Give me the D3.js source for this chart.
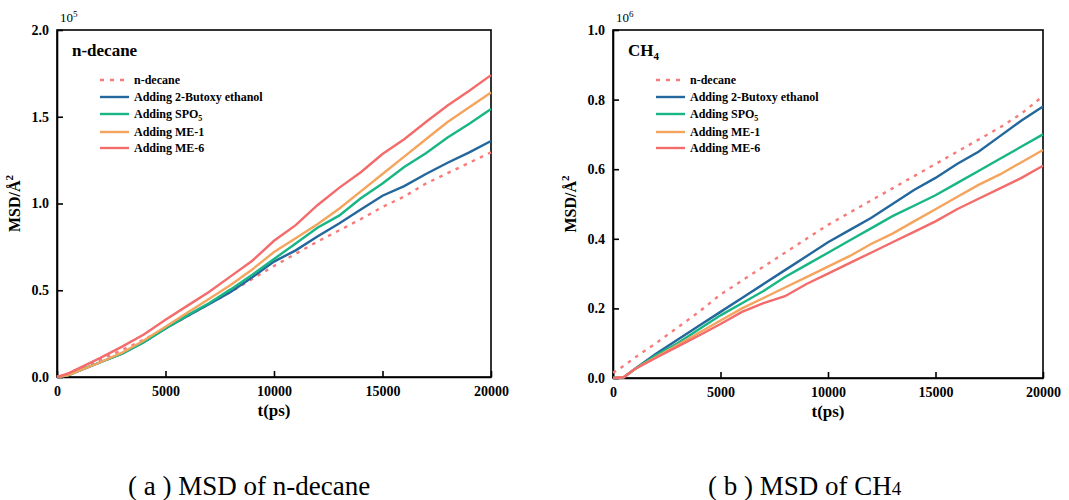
<!DOCTYPE html>
<html>
<head>
<meta charset="utf-8">
<script src="https://cdn.jsdelivr.net/npm/d3@7"></script>
<style>
  body { margin: 0; background: #fff; }
  text { font-family: "Liberation Serif", "Times New Roman", serif; }
</style>
</head>
<body>
<svg id="chart" width="1069" height="500"></svg>
<script>
// times (ps)
var times = [0, 500, 1000, 2000, 3000, 4000, 5000, 6000, 7000, 8000, 9000, 10000,
  11000, 12000, 13000, 14000, 15000, 16000, 17000, 18000, 19000, 20000];

var seriesNames = ["n-decane", "Adding 2-Butoxy ethanol", "Adding SPO5", "Adding ME-1", "Adding ME-6"];
var seriesColors = ["#f77b7b", "#23679c", "#17b684", "#f5a45e", "#f36b6b"];

// (a) MSD of n-decane, x 10^5
var decaneBase  = [0, 0.02, 0.045, 0.10, 0.155, 0.215, 0.28, 0.35, 0.42, 0.49, 0.565, 0.64, 0.71, 0.78, 0.845, 0.91, 0.98, 1.04, 1.115, 1.175, 1.235, 1.295];
var decaneBut   = [0, 0.01, 0.035, 0.085, 0.135, 0.2, 0.28, 0.35, 0.42, 0.49, 0.575, 0.665, 0.73, 0.81, 0.885, 0.965, 1.045, 1.10, 1.17, 1.235, 1.295, 1.36];
var decaneSPO   = [0, 0.01, 0.035, 0.085, 0.135, 0.2, 0.28, 0.355, 0.425, 0.505, 0.59, 0.68, 0.77, 0.86, 0.93, 1.03, 1.115, 1.21, 1.29, 1.38, 1.46, 1.545];
var decaneME1   = [0, 0.01, 0.035, 0.085, 0.14, 0.21, 0.29, 0.37, 0.45, 0.53, 0.62, 0.72, 0.80, 0.88, 0.97, 1.07, 1.17, 1.27, 1.37, 1.47, 1.555, 1.64];
var decaneME6   = [0, 0.02, 0.05, 0.11, 0.175, 0.245, 0.33, 0.41, 0.49, 0.58, 0.67, 0.785, 0.875, 0.99, 1.09, 1.18, 1.285, 1.37, 1.47, 1.565, 1.65, 1.74];

// (b) MSD of CH4, x 10^6
var ch4Base = [0.015, 0.035, 0.058, 0.10, 0.145, 0.19, 0.24, 0.28, 0.32, 0.36, 0.40, 0.44, 0.475, 0.51, 0.545, 0.58, 0.615, 0.65, 0.685, 0.72, 0.76, 0.81];
var ch4But  = [0, 0.002, 0.025, 0.07, 0.11, 0.15, 0.19, 0.23, 0.27, 0.31, 0.35, 0.39, 0.425, 0.46, 0.5, 0.54, 0.575, 0.615, 0.65, 0.695, 0.74, 0.78];
var ch4SPO  = [0, 0.002, 0.025, 0.065, 0.10, 0.14, 0.18, 0.215, 0.25, 0.29, 0.325, 0.36, 0.395, 0.43, 0.465, 0.495, 0.525, 0.56, 0.595, 0.63, 0.665, 0.70];
var ch4ME1  = [0, 0.002, 0.025, 0.06, 0.095, 0.13, 0.165, 0.2, 0.23, 0.26, 0.29, 0.32, 0.35, 0.385, 0.415, 0.45, 0.485, 0.52, 0.555, 0.585, 0.62, 0.655];
var ch4ME6  = [0, 0.002, 0.025, 0.058, 0.09, 0.122, 0.155, 0.19, 0.215, 0.235, 0.27, 0.30, 0.33, 0.36, 0.39, 0.42, 0.45, 0.485, 0.515, 0.545, 0.575, 0.61];

var xTicks = [0, 5000, 10000, 15000, 20000];
var yTicksA = [0, 0.5, 1.0, 1.5, 2.0];
var yTicksB = [0, 0.2, 0.4, 0.6, 0.8, 1.0];

var svg = d3.select("#chart");

function drawPanel(p) {
  var x = d3.scaleLinear().domain([0, 20000]).range([p.left, p.right]);
  var y = d3.scaleLinear().domain([0, p.ymax]).range([p.bottom, p.top]);
  var g = svg.append("g");

  // frame
  g.append("rect")
    .attr("x", p.left).attr("y", p.top)
    .attr("width", p.right - p.left).attr("height", p.bottom - p.top)
    .attr("fill", "none").attr("stroke", "#000").attr("stroke-width", 1.6);

  // axes, ticks pointing inward
  var xa = g.append("g").attr("transform", "translate(0," + p.bottom + ")")
    .call(d3.axisBottom(x).tickValues(xTicks).tickSizeInner(-6).tickSizeOuter(0).tickPadding(9).tickFormat(d3.format("d")));
  var ya = g.append("g").attr("transform", "translate(" + p.left + ",0)")
    .call(d3.axisLeft(y).tickValues(p.yTicks).tickSizeInner(-6).tickSizeOuter(0).tickPadding(8).tickFormat(d3.format(".1f")));
  [xa, ya].forEach(function (a) {
    a.attr("font-family", null);
    a.select(".domain").attr("stroke-width", 1.6);
    a.selectAll(".tick line").attr("stroke-width", 1.6);
    a.selectAll("text").attr("font-size", 14).attr("font-weight", "bold").attr("fill", "#000");
  });

  // exponent
  var ex = g.append("text").attr("x", p.left + 3).attr("y", p.top - 8)
    .attr("font-size", 13);
  ex.append("tspan").text("10");
  ex.append("tspan").attr("font-size", 9).attr("dy", -5).text(p.exp);

  // panel title
  var t = g.append("text").attr("x", p.left + 15).attr("y", p.top + 26)
    .attr("font-size", 17).attr("font-weight", "bold");
  t.append("tspan").text(p.title);
  if (p.titleSub) t.append("tspan").attr("font-size", 11).attr("dy", 4).text(p.titleSub);

  // axis titles
  g.append("text").attr("x", (p.left + p.right) / 2).attr("y", p.bottom + 39)
    .attr("text-anchor", "middle").attr("font-size", 17).attr("font-weight", "bold").text("t(ps)");
  var yl = g.append("text")
    .attr("transform", "translate(" + (p.left - 37) + "," + ((p.top + p.bottom) / 2) + ") rotate(-90)")
    .attr("text-anchor", "middle").attr("font-size", 16).attr("font-weight", "bold");
  yl.append("tspan").text("MSD/Å");
  yl.append("tspan").attr("font-size", 11).attr("dy", -7).text("2");

  // lines
  var line = d3.line().x(function (d) { return x(d[0]); }).y(function (d) { return y(d[1]); });
  p.series.forEach(function (vals, i) {
    var pts = times.map(function (tt, j) { return [tt, vals[j]]; });
    g.append("path").datum(pts)
      .attr("d", line)
      .attr("fill", "none")
      .attr("stroke", seriesColors[i])
      .attr("stroke-width", 2.4)
      .attr("stroke-dasharray", i === 0 ? "3.5,5.5" : null);
  });

  // legend
  var rowY = [80, 97, 114, 132, 148];
  seriesNames.forEach(function (name, i) {
    var lx = p.left + 43;
    g.append("line").attr("x1", lx).attr("x2", lx + 29)
      .attr("y1", rowY[i]).attr("y2", rowY[i])
      .attr("stroke", seriesColors[i]).attr("stroke-width", 2.4)
      .attr("stroke-dasharray", i === 0 ? "4,6" : null);
    var lt = g.append("text").attr("x", lx + 34).attr("y", rowY[i] + 4)
      .attr("font-size", 12).attr("font-weight", "bold");
    if (name === "Adding SPO5") {
      lt.append("tspan").text("Adding SPO");
      lt.append("tspan").attr("font-size", 8).attr("dy", 3).text("5");
    } else {
      lt.text(name);
    }
  });

  // caption
  var c = svg.append("text").attr("x", p.capX).attr("y", 495)
    .attr("font-size", 27);
  c.append("tspan").text(p.caption);
  if (p.capSub) c.append("tspan").attr("font-size", 19).text(p.capSub);
}

drawPanel({
  left: 57, right: 491, top: 30, bottom: 377, ymax: 2.0, yTicks: yTicksA,
  exp: "5", title: "n-decane",
  series: [decaneBase, decaneBut, decaneSPO, decaneME1, decaneME6],
  caption: "( a ) MSD of n-decane", capX: 128
});
drawPanel({
  left: 613, right: 1043, top: 30, bottom: 378, ymax: 1.0, yTicks: yTicksB,
  exp: "6", title: "CH", titleSub: "4",
  series: [ch4Base, ch4But, ch4SPO, ch4ME1, ch4ME6],
  caption: "( b ) MSD of CH", capSub: "4", capX: 708
});
</script>
</body>
</html>
